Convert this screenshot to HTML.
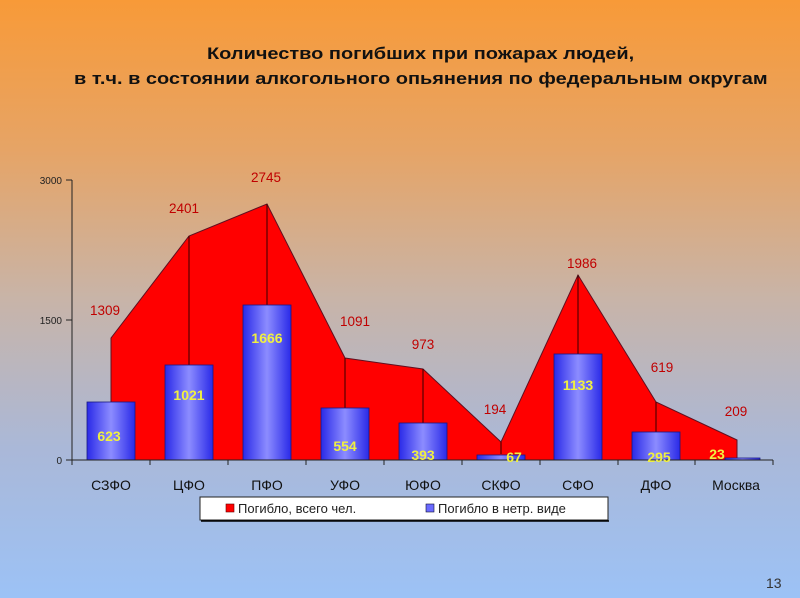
<!DOCTYPE html>
<html><head><meta charset="utf-8"><style>
html,body{margin:0;padding:0}
body{width:800px;height:598px;overflow:hidden;background:linear-gradient(to bottom,#f89a38 0%,#e6a466 25%,#c8b4a8 50%,#aab8d8 75%,#9cc2f6 100%);font-family:"Liberation Sans",sans-serif;position:relative}
.t{position:absolute;font-weight:bold;font-size:16.5px;color:#111;white-space:nowrap;transform:scaleX(1.21);transform-origin:0 0}
</style></head><body>
<div class="t" style="left:207px;top:45px">Количество погибших при пожарах людей,</div>
<div class="t" style="left:74px;top:70px">в т.ч. в состоянии алкогольного опьянения по федеральным округам</div>
<svg width="800" height="598" style="position:absolute;left:0;top:0" font-family="Liberation Sans, sans-serif">
<defs>
<linearGradient id="b" x1="0" x2="1" y1="0" y2="0">
<stop offset="0" stop-color="#2a2ae8"/><stop offset="0.5" stop-color="#8c8cff"/><stop offset="1" stop-color="#2a2ae8"/>
</linearGradient>
</defs>
<polygon points="111,460 111,338 189,236 267,204 345,358 423,369 501,442 578,275 656,402 737,440 737,460" fill="#ff0000"/>
<polyline points="111,460 111,338 189,236 267,204 345,358 423,369 501,442 578,275 656,402 737,440 737,460" fill="none" stroke="#601020" stroke-width="1"/>
<g stroke="#300" stroke-width="1">
<line x1="189" y1="236" x2="189" y2="365"/><line x1="267" y1="204" x2="267" y2="305"/>
<line x1="345" y1="358" x2="345" y2="408"/><line x1="423" y1="369" x2="423" y2="423"/>
<line x1="501" y1="442" x2="501" y2="454"/><line x1="578" y1="275" x2="578" y2="354"/>
<line x1="656" y1="402" x2="656" y2="432"/>
</g>
<g fill="url(#b)" stroke="#1a1a80" stroke-width="0.8">
<rect x="87" y="402" width="48" height="58"/><rect x="165" y="365" width="48" height="95"/>
<rect x="243" y="305" width="48" height="155"/><rect x="321" y="408" width="48" height="52"/>
<rect x="399" y="423" width="48" height="37"/><rect x="477" y="455" width="48" height="5"/>
<rect x="554" y="354" width="48" height="106"/><rect x="632" y="432" width="48" height="28"/>
<rect x="725" y="458" width="35" height="2"/>
</g>
<g stroke="#222" stroke-width="1">
<line x1="72" y1="180" x2="72" y2="465"/><line x1="66" y1="460" x2="773" y2="460"/>
<line x1="66" y1="180" x2="72" y2="180"/><line x1="66" y1="320" x2="72" y2="320"/>
<line x1="150" y1="460" x2="150" y2="465"/><line x1="228" y1="460" x2="228" y2="465"/>
<line x1="306" y1="460" x2="306" y2="465"/><line x1="384" y1="460" x2="384" y2="465"/>
<line x1="462" y1="460" x2="462" y2="465"/><line x1="540" y1="460" x2="540" y2="465"/>
<line x1="618" y1="460" x2="618" y2="465"/><line x1="695" y1="460" x2="695" y2="465"/>
<line x1="773" y1="460" x2="773" y2="465"/>
</g>
<g font-size="10" fill="#222" text-anchor="end">
<text x="62" y="184">3000</text><text x="62" y="324">1500</text><text x="62" y="464">0</text>
</g>
<g font-size="14" fill="#111" text-anchor="middle">
<text x="111" y="490">СЗФО</text><text x="189" y="490">ЦФО</text><text x="267" y="490">ПФО</text>
<text x="345" y="490">УФО</text><text x="423" y="490">ЮФО</text><text x="501" y="490">СКФО</text>
<text x="578" y="490">СФО</text><text x="656" y="490">ДФО</text><text x="736" y="490">Москва</text>
</g>
<g font-size="13.5" fill="#c00000" text-anchor="middle">
<text x="105" y="315">1309</text><text x="184" y="213">2401</text><text x="266" y="182">2745</text>
<text x="355" y="326">1091</text><text x="423" y="349">973</text><text x="495" y="414">194</text>
<text x="582" y="268">1986</text><text x="662" y="372">619</text><text x="736" y="416">209</text>
</g>
<g font-size="14" font-weight="bold" fill="#f0f040" text-anchor="middle">
<text x="109" y="441">623</text><text x="189" y="400">1021</text><text x="267" y="343">1666</text>
<text x="345" y="451">554</text><text x="423" y="460">393</text><text x="514" y="462">67</text>
<text x="578" y="390">1133</text><text x="659" y="462">295</text><text x="717" y="459">23</text>
</g>
<rect x="200" y="497" width="408" height="23" fill="#fff" stroke="#222" stroke-width="1"/>
<line x1="201" y1="521" x2="609" y2="521" stroke="#000" stroke-width="1.5"/>
<rect x="226" y="504" width="8" height="8" fill="#ff0000" stroke="#600" stroke-width="0.6"/>
<text x="238" y="513" font-size="13" fill="#222">Погибло, всего чел.</text>
<rect x="426" y="504" width="8" height="8" fill="#6a6aff" stroke="#113" stroke-width="0.6"/>
<text x="438" y="513" font-size="13" fill="#222">Погибло в нетр. виде</text>
<text x="766" y="588" font-size="14" fill="#333">13</text>
</svg>
</body></html>
